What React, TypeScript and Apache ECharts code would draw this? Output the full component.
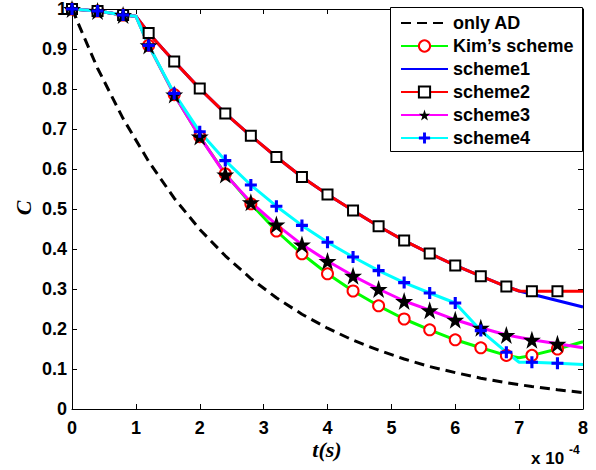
import React, { useEffect, useRef } from "react";
import * as echarts from "echarts";

// time in units of 1e-4 s
const markerT = [0, 0.4, 0.8, 1.2, 1.6, 2.0, 2.4, 2.8, 3.2, 3.6, 4.0, 4.4, 4.8, 5.2, 5.6, 6.0, 6.4, 6.8, 7.2, 7.6];

const adT = [0, 0.4, 0.8, 1.2, 1.6, 2.0, 2.4, 2.8, 3.2, 3.6, 4.0, 4.4, 4.8, 5.2, 5.6, 6.0, 6.4, 6.8, 7.2, 7.6, 8.0];
const adC = [1.0, 0.852, 0.726, 0.619, 0.527, 0.449, 0.383, 0.326, 0.278, 0.237, 0.202, 0.172, 0.147, 0.125, 0.106, 0.091, 0.077, 0.066, 0.056, 0.048, 0.041];

const kimT = [0, 0.4, 0.8, 1.0, 1.2, 1.6, 2.0, 2.4, 2.8, 3.2, 3.6, 4.0, 4.4, 4.8, 5.2, 5.6, 6.0, 6.4, 6.8, 7.0, 7.2, 7.6, 8.0];
const kimC = [1.0, 0.995, 0.985, 0.982, 0.909, 0.786, 0.681, 0.588, 0.513, 0.445, 0.388, 0.338, 0.295, 0.258, 0.225, 0.198, 0.173, 0.153, 0.134, 0.128, 0.134, 0.150, 0.168];

const s1T = [0, 0.4, 0.8, 1.0, 1.2, 1.6, 2.0, 2.4, 2.8, 3.2, 3.6, 4.0, 4.4, 4.8, 5.2, 5.6, 6.0, 6.4, 6.8, 7.0, 8.0];
const s1C = [1.0, 0.995, 0.985, 0.982, 0.940, 0.869, 0.801, 0.739, 0.683, 0.630, 0.580, 0.536, 0.496, 0.457, 0.421, 0.389, 0.359, 0.332, 0.306, 0.295, 0.255];

const s2T = [0, 0.4, 0.8, 1.0, 1.2, 1.6, 2.0, 2.4, 2.8, 3.2, 3.6, 4.0, 4.4, 4.8, 5.2, 5.6, 6.0, 6.4, 6.8, 7.0, 7.2, 7.6, 8.0];
const s2C = [1.0, 0.995, 0.985, 0.982, 0.940, 0.869, 0.801, 0.739, 0.683, 0.630, 0.580, 0.536, 0.496, 0.457, 0.421, 0.389, 0.359, 0.332, 0.306, 0.295, 0.2945, 0.2945, 0.2945];

const s3T = [0, 0.4, 0.8, 1.0, 1.2, 1.6, 2.0, 2.4, 2.8, 3.2, 3.6, 4.0, 4.4, 4.8, 5.2, 5.6, 6.0, 6.4, 6.8, 7.2, 7.6, 8.0];
const s3C = [1.0, 0.995, 0.985, 0.982, 0.909, 0.786, 0.681, 0.586, 0.517, 0.461, 0.411, 0.370, 0.333, 0.300, 0.270, 0.247, 0.223, 0.203, 0.185, 0.173, 0.163, 0.153];

const s4T = [0, 0.4, 0.8, 1.0, 1.2, 1.6, 2.0, 2.4, 2.8, 3.2, 3.6, 4.0, 4.4, 4.8, 5.2, 5.6, 6.0, 6.4, 6.8, 7.0, 7.2, 7.6, 8.0];
const s4C = [1.0, 0.995, 0.985, 0.982, 0.909, 0.789, 0.693, 0.621, 0.560, 0.507, 0.459, 0.417, 0.380, 0.346, 0.316, 0.290, 0.265, 0.196, 0.142, 0.117, 0.117, 0.1145, 0.111];

const seriesNames = ["only AD", "Kim\u2019s scheme", "scheme1", "scheme2", "scheme3", "scheme4"];
const xTickInterval = 1;
const yTickInterval = 0.1;

const STAR = "path://M50,0 L61.8,35.1 L98.1,35.1 L68.8,56.8 L79.4,90.9 L50,69.1 L20.6,90.9 L31.2,56.8 L1.9,35.1 L38.2,35.1 Z";
const PLUS = "path://M37,0 H63 V37 H100 V63 H63 V100 H37 V63 H0 V37 H37 Z";

function toData(ts: number[], cs: number[], markers: boolean) {
  return ts.map((t, i) => {
    const isMarker = markers && markerT.some((m) => Math.abs(m - t) < 1e-9);
    return isMarker ? [t, cs[i]] : { value: [t, cs[i]], symbol: "none" };
  });
}

const FONT = "Liberation Sans";

export default function App() {
  const ref = useRef<HTMLDivElement>(null);
  useEffect(() => {
    if (!ref.current) return;
    const chart = echarts.init(ref.current, null, { renderer: "svg" });
    const axisCommon = {
      type: "value",
      axisLine: { show: true, onZero: false, lineStyle: { color: "#000", width: 1 } },
      axisTick: { show: true, inside: true, length: 5, lineStyle: { color: "#000", width: 1 } },
      splitLine: { show: false },
    };
    const labelStyle = { color: "#000", fontSize: 18, fontWeight: "bold", fontFamily: FONT };
    chart.setOption({
      animation: false,
      backgroundColor: "#fff",
      grid: { left: 72, right: 13, top: 7, bottom: 61 },
      xAxis: [
        { ...axisCommon, position: "bottom", min: 0, max: 8, interval: xTickInterval, axisLabel: { ...labelStyle, margin: 10 } },
        { ...axisCommon, position: "top", min: 0, max: 8, interval: xTickInterval, axisLabel: { show: false } },
      ],
      yAxis: [
        {
          ...axisCommon,
          position: "left",
          min: 0,
          max: 1,
          interval: yTickInterval,
          axisLabel: {
            ...labelStyle,
            margin: 5,
            formatter: (v: number) => (Math.abs(v) < 1e-9 ? "0" : Math.abs(v - 1) < 1e-9 ? "1" : v.toFixed(1)),
          },
        },
        { ...axisCommon, position: "right", min: 0, max: 1, interval: yTickInterval, axisLabel: { show: false } },
      ],
      legend: {
        orient: "vertical",
        left: 391,
        top: 7,
        padding: [7, 5, 4, 9],
        itemWidth: 47,
        itemHeight: 14,
        itemGap: 5,
        selectedMode: false,
        textStyle: { fontSize: 18, fontWeight: "bold", fontFamily: FONT, color: "#000", lineHeight: 18 },
        data: seriesNames,
        z: 10,
      },
      graphic: [
        {
          type: "rect",
          z: 9,
          shape: { x: 390.5, y: 7.5, width: 192, height: 144 },
          style: { fill: "#fff", stroke: "#000", lineWidth: 1 },
        },
        {
          type: "text",
          x: 23,
          y: 208,
          rotation: Math.PI / 2,
          style: { text: "C", font: 'italic bold 22px "Liberation Serif"', fill: "#000", textAlign: "center", textVerticalAlign: "middle" },
        },
        {
          type: "text",
          x: 327,
          y: 449,
          style: { text: "t(s)", font: 'italic bold 22px "Liberation Serif"', fill: "#000", textAlign: "center", textVerticalAlign: "middle" },
        },
        {
          type: "text",
          x: 531,
          y: 458.5,
          style: { text: "x 10", font: 'bold 17px "Liberation Sans"', fill: "#000", textAlign: "left", textVerticalAlign: "middle" },
        },
        {
          type: "text",
          x: 569,
          y: 450,
          style: { text: "-4", font: 'bold 12px "Liberation Sans"', fill: "#000", textAlign: "left", textVerticalAlign: "middle" },
        },
      ],
      series: [
        {
          name: seriesNames[0],
          type: "line",
          symbol: "none",
          data: toData(adT, adC, false),
          lineStyle: { color: "#000", width: 3, type: [10, 6] },
          itemStyle: { color: "rgba(0,0,0,0)" },
        },
        {
          name: seriesNames[1],
          type: "line",
          symbol: "circle",
          symbolSize: 11,
          showAllSymbol: true,
          data: toData(kimT, kimC, true),
          lineStyle: { color: "#00ff00", width: 3 },
          itemStyle: { color: "#fff", borderColor: "#ff0000", borderWidth: 2 },
        },
        {
          name: seriesNames[2],
          type: "line",
          symbol: "none",
          data: toData(s1T, s1C, false),
          lineStyle: { color: "#0000ff", width: 3 },
          itemStyle: { color: "rgba(0,0,0,0)" },
        },
        {
          name: seriesNames[3],
          type: "line",
          symbol: "rect",
          symbolSize: 10,
          showAllSymbol: true,
          data: toData(s2T, s2C, true),
          lineStyle: { color: "#ff0000", width: 3 },
          itemStyle: { color: "#fff", borderColor: "#000", borderWidth: 2 },
        },
        {
          name: seriesNames[4],
          type: "line",
          symbol: STAR,
          symbolSize: 18,
          showAllSymbol: true,
          data: toData(s3T, s3C, true),
          lineStyle: { color: "#ff00ff", width: 3 },
          itemStyle: { color: "#000" },
        },
        {
          name: seriesNames[5],
          type: "line",
          symbol: PLUS,
          symbolSize: 12,
          showAllSymbol: true,
          data: toData(s4T, s4C, true),
          lineStyle: { color: "#00ffff", width: 3 },
          itemStyle: { color: "#0000ff" },
        },
      ],
    });
    return () => chart.dispose();
  }, []);
  return <div ref={ref} style={{ position: "absolute", left: 0, top: 0, width: 596, height: 470 }} />;
}
